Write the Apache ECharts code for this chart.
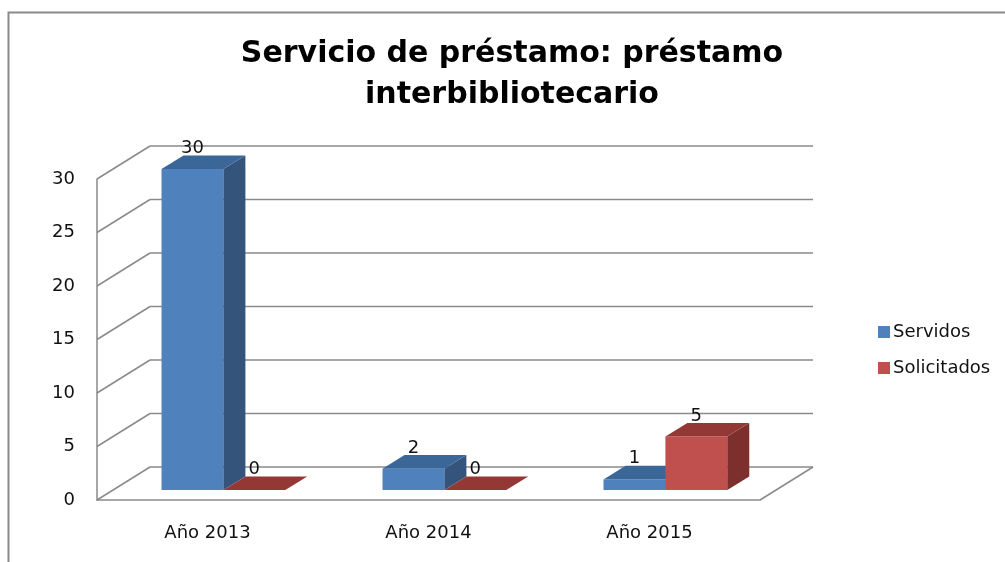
<!DOCTYPE html>
<html>
<head>
<meta charset="utf-8">
<script src="https://cdn.jsdelivr.net/npm/echarts@6/dist/echarts.min.js"></script>
<style>
  html, body { margin: 0; padding: 0; background: #fff; }
  #chart { width: 1005px; height: 562px; }
</style>
</head>
<body>
<div id="chart"></div>
<script>
// datos
const categories = ['Año 2013', 'Año 2014', 'Año 2015'];
const servidos = [30, 2, 1];
const solicitados = [0, 0, 5];
const yTicks = [0, 5, 10, 15, 20, 25, 30];

// profundidad de la vista 3D (pixeles)
const DX = 53, DY = -33;
const D0 = 0.3, D1 = 0.715;   // profundidad de las barras
const BAR = 0.28;             // ancho de cada barra / categoria

const font = 'DejaVu Sans';

function barRender(side, cFront, cTop, cSide) {
    return function (params, api) {
        const i = api.value(0);
        const v = api.value(1);
        const p0 = api.coord([i, 0]);
        const p1 = api.coord([i, v]);
        const w = api.size([1, 0])[0] * BAR;
        const x0 = p0[0] + (side === 0 ? -w : 0) + D0 * DX;
        const x1 = x0 + w;
        const yb = p0[1] + D0 * DY;
        const yt = p1[1] + D0 * DY;
        const ddx = (D1 - D0) * DX, ddy = (D1 - D0) * DY;
        return {
            type: 'group',
            children: [
                { type: 'polygon', shape: { points: [[x0, yt], [x1, yt], [x1, yb], [x0, yb]] }, style: { fill: cFront } },
                { type: 'polygon', shape: { points: [[x1, yt], [x1 + ddx, yt + ddy], [x1 + ddx, yb + ddy], [x1, yb]] }, style: { fill: cSide } },
                { type: 'polygon', shape: { points: [[x0, yt], [x1, yt], [x1 + ddx, yt + ddy], [x0 + ddx, yt + ddy]] }, style: { fill: cTop } },
                { type: 'text', z2: 10, style: { text: String(v), x: (x0 + x1) / 2, y: yt + ddy + 2, align: 'center', verticalAlign: 'bottom', fill: '#111', font: '18px ' + font } }
            ]
        };
    };
}

function gridRender(params, api) {
    const cs = params.coordSys;
    const v = api.value(1);
    const y = api.coord([0, v])[1];
    const st = { stroke: '#8a8a8a', lineWidth: 1.5 };
    const children = [
        { type: 'line', shape: { x1: cs.x, y1: y, x2: cs.x + DX, y2: y + DY }, style: st },
        { type: 'line', shape: { x1: cs.x + DX, y1: y + DY, x2: cs.x + cs.width + DX, y2: y + DY }, style: st }
    ];
    if (v === 0) {
        children.push({ type: 'line', shape: { x1: cs.x + cs.width, y1: y, x2: cs.x + cs.width + DX, y2: y + DY }, style: st });
    }
    return { type: 'group', children: children };
}

const chart = echarts.init(document.getElementById('chart'));
chart.setOption({
    animation: false,
    title: {
        text: 'Servicio de préstamo: préstamo\ninterbibliotecario',
        left: 512,
        textAlign: 'center',
        top: 34,
        padding: 0,
        textStyle: { fontFamily: font, fontWeight: 'bold', fontSize: 30, lineHeight: 41, color: '#000' }
    },
    graphic: [{
        type: 'rect',
        shape: { x: 8.5, y: 12.5, width: 1200, height: 800 },
        style: { fill: null, stroke: '#8a8a8a', lineWidth: 2 },
        silent: true
    }],
    legend: {
        data: ['Servidos', 'Solicitados'],
        orient: 'vertical',
        left: 873,
        top: 318,
        icon: 'rect',
        itemWidth: 12,
        itemHeight: 12,
        itemGap: 18,
        textStyle: { fontFamily: font, fontSize: 18, lineHeight: 18, color: '#111', padding: [0, 0, 0, -2] }
    },
    grid: { left: 97, right: 245, top: 179, bottom: 62 },
    xAxis: {
        type: 'category',
        data: categories,
        axisLine: { lineStyle: { color: '#8a8a8a', width: 1.5 } },
        axisTick: { show: false },
        axisLabel: { fontFamily: font, fontSize: 18, color: '#111', margin: 24 }
    },
    yAxis: {
        type: 'value',
        min: 0,
        max: 30,
        interval: 5,
        axisLine: { show: true, lineStyle: { color: '#8a8a8a', width: 1.5 } },
        axisTick: { show: false },
        splitLine: { show: false },
        axisLabel: { fontFamily: font, fontSize: 18, color: '#111', margin: 22 }
    },
    series: [
        {
            type: 'custom',
            name: 'rejilla',
            silent: true,
            renderItem: gridRender,
            data: yTicks.map(v => [0, v]),
            z: 1
        },
        {
            type: 'custom',
            name: 'Servidos',
            itemStyle: { color: '#4f81bd' },
            renderItem: barRender(0, '#4f81bd', '#3b6698', '#34547c'),
            data: servidos.map((v, i) => [i, v]),
            z: 2
        },
        {
            type: 'custom',
            name: 'Solicitados',
            itemStyle: { color: '#c0504d' },
            renderItem: barRender(1, '#c0504d', '#943836', '#7d2f2d'),
            data: solicitados.map((v, i) => [i, v]),
            z: 3
        }
    ]
});
</script>
</body>
</html>
